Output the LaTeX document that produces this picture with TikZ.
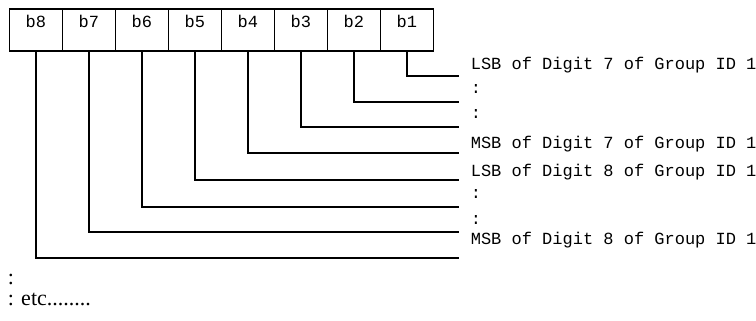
\documentclass[tikz,border=0pt]{standalone}
\usepackage{fontspec}
\setmainfont{Liberation Serif}
\newfontfamily\bitfont{Liberation Mono}
\begin{document}
\begin{tikzpicture}[x=1pt, y=-1pt, line width=1.6pt,
        every node/.style={font=\bitfont\fontsize{17}{20}\selectfont, inner sep=0pt}]
        \useasboundingbox (0,0) rectangle (756,321);
        \foreach \index in {1,...,8} {
            \node[draw, minimum width=53pt, minimum height=42pt, anchor=north west] (cell-\index)
                at ({8.5+53*(8-\index)},8) {};
            \path (cell-\index.center) ++(0,-2) node[anchor=base] {b\index};
        }
        \foreach \index/\leady in {1/76,2/102,3/127,4/153,5/180,6/207,7/232,8/258} {
            \coordinate (end-\index) at (459,\leady);
            \draw (cell-\index.south) |- (end-\index);
        }
        \foreach \index/\liney/\desc in {1/70/{LSB of Digit 7 of Group ID 1},2/94/{:},3/119/{:},
            4/148/{MSB of Digit 7 of Group ID 1},5/176/{LSB of Digit 8 of Group ID 1},
            6/198/{:},7/224/{:},8/244/{MSB of Digit 8 of Group ID 1}}
            \node[anchor=base west] (label-\index) at (470,\liney) {\desc};
        \node[font=\fontsize{22}{24}\selectfont, anchor=base west] (more-1) at (7,284) {:};
        \node[font=\fontsize{22}{24}\selectfont, anchor=base west] (more-2) at (7,305) {: etc........};
    \end{tikzpicture}
\end{document}
